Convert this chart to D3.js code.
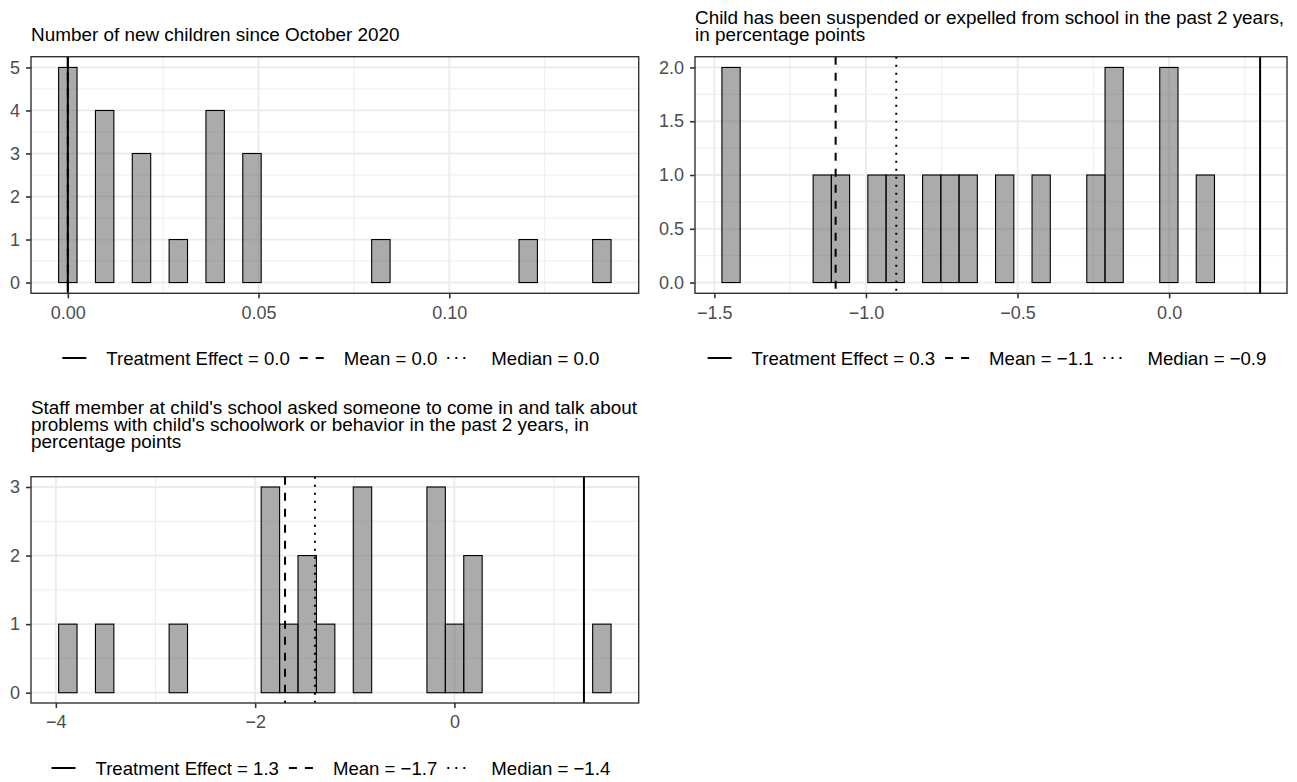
<!DOCTYPE html>
<html><head><meta charset="utf-8">
<script src="https://cdn.jsdelivr.net/npm/d3@7"></script>
<style>html,body{margin:0;padding:0;background:#fff;} svg{display:block;}</style>
</head><body><svg id="chart" width="1297" height="782"></svg>
<script>
// ---------------- DATA ----------------
const titles1 = ["Number of new children since October 2020"];
const titles2 = ["Child has been suspended or expelled from school in the past 2 years,", "in percentage points"];
const titles3 = ["Staff member at child's school asked someone to come in and talk about",
                 "problems with child's schoolwork or behavior in the past 2 years, in",
                 "percentage points"];

const values1 = [0,0,0,0,0, 0.01,0.01,0.01,0.01, 0.02,0.02,0.02, 0.03, 0.04,0.04,0.04,0.04, 0.05,0.05,0.05, 0.08, 0.12, 0.14];
const values2 = [-1.445,-1.445, -1.14, -1.08, -0.96, -0.90, -0.78, -0.72, -0.66, -0.54, -0.42, -0.24, -0.18,-0.18, 0.0,0.0, 0.12];
const values3 = [-3.88, -3.51, -2.77, -1.85,-1.85,-1.85, -1.66, -1.48,-1.48, -1.29, -0.92,-0.92,-0.92, -0.18,-0.18,-0.18, 0.0, 0.18,0.18, 1.48];

// reference lines: [treatment effect, mean, median]
const lines1 = [0.0, 0.0, 0.0];
const lines2 = [0.3, -1.1, -0.9];
const lines3 = [1.3, -1.7, -1.4];

const xTicks1 = [0, 0.05, 0.10];      const xLabels1 = ["0.00", "0.05", "0.10"];
const xTicks2 = [-1.5, -1.0, -0.5, 0]; const xLabels2 = ["\u22121.5", "\u22121.0", "\u22120.5", "0.0"];
const xTicks3 = [-4, -2, 0];           const xLabels3 = ["\u22124", "\u22122", "0"];
const yTicks1 = [0, 1, 2, 3, 4, 5];    const yLabels1 = ["0", "1", "2", "3", "4", "5"];
const yTicks2 = [0, 0.5, 1, 1.5, 2];   const yLabels2 = ["0.0", "0.5", "1.0", "1.5", "2.0"];
const yTicks3 = [0, 1, 2, 3];          const yLabels3 = ["0", "1", "2", "3"];

const legendNames = ["Treatment Effect", "Mean", "Median"];
const nBins = 30;

// ---------------- LAYOUT / STYLE ----------------
const FONT = "'Liberation Sans', Arial, Helvetica, sans-serif";
const layout = [
  {x0: 31,  x1: 638.7, y0: 56.7,  y1: 293.3, titleBase: 40.7, legendY: 358},
  {x0: 695, x1: 1287,  y0: 56.7,  y1: 293.3, titleBase: 40.7, legendY: 358},
  {x0: 31,  x1: 638.7, y0: 476.7, y1: 703,   titleBase: 448,  legendY: 768}
];
const dashes = [null, "8,8", "2,6"];

const panels = [
  {titles: titles1, values: values1, lines: lines1, xT: xTicks1, xL: xLabels1, yT: yTicks1, yL: yLabels1},
  {titles: titles2, values: values2, lines: lines2, xT: xTicks2, xL: xLabels2, yT: yTicks2, yL: yLabels2},
  {titles: titles3, values: values3, lines: lines3, xT: xTicks3, xL: xLabels3, yT: yTicks3, yL: yLabels3}
];

const svg = d3.select("#chart");
svg.append("rect").attr("width", 1297).attr("height", 782).attr("fill", "#fff");

function fmt1(v) {
  const s = Math.abs(v).toFixed(1);
  return (v < -0.0001 ? "\u2212" : "") + s;
}
function minorsOf(ticks, dom) {
  const step = ticks[1] - ticks[0];
  const out = [];
  for (let v = ticks[0] - step / 2; v <= ticks[ticks.length - 1] + step / 2 + 1e-9; v += step) {
    if (v > dom[0] && v < dom[1]) out.push(v);
  }
  return out;
}

panels.forEach((p, i) => {
  const L = layout[i];
  // ggplot-like binning: 30 bins, centres at the min and max of the trained range
  const lo = Math.min(d3.min(p.values), ...p.lines);
  const hi = Math.max(d3.max(p.values), ...p.lines);
  const w = (hi - lo) / (nBins - 1);
  const edges = d3.range(nBins + 1).map(k => lo - w / 2 + k * w);
  const bins = d3.bin().domain([edges[0], edges[nBins]]).thresholds(edges.slice(1, -1))(p.values);
  const filled = bins.filter(b => b.length > 0);

  const dLo = Math.min(filled[0].x0, ...p.lines);
  const dHi = Math.max(filled[filled.length - 1].x1, ...p.lines);
  const pad = 0.05 * (dHi - dLo);
  const xDom = [dLo - pad, dHi + pad];
  const x = d3.scaleLinear().domain(xDom).range([L.x0, L.x1]);

  const maxC = d3.max(filled, b => b.length);
  const yDom = [-0.05 * maxC, maxC * 1.05];
  const y = d3.scaleLinear().domain(yDom).range([L.y1, L.y0]);

  const g = svg.append("g");
  g.append("rect").attr("x", L.x0).attr("y", L.y0).attr("width", L.x1 - L.x0).attr("height", L.y1 - L.y0).attr("fill", "#fff");

  // grid
  const grid = g.append("g");
  grid.selectAll(".gxm").data(minorsOf(p.xT, xDom)).join("line")
    .attr("x1", d => x(d)).attr("x2", d => x(d)).attr("y1", L.y0).attr("y2", L.y1)
    .attr("stroke", "#EBEBEB").attr("stroke-width", 0.9);
  grid.selectAll(".gym").data(minorsOf(p.yT, yDom)).join("line")
    .attr("y1", d => y(d)).attr("y2", d => y(d)).attr("x1", L.x0).attr("x2", L.x1)
    .attr("stroke", "#EBEBEB").attr("stroke-width", 0.9);
  grid.selectAll(".gx").data(p.xT).join("line")
    .attr("x1", d => x(d)).attr("x2", d => x(d)).attr("y1", L.y0).attr("y2", L.y1)
    .attr("stroke", "#EBEBEB").attr("stroke-width", 1.8);
  grid.selectAll(".gy").data(p.yT).join("line")
    .attr("y1", d => y(d)).attr("y2", d => y(d)).attr("x1", L.x0).attr("x2", L.x1)
    .attr("stroke", "#EBEBEB").attr("stroke-width", 1.8);

  // bars
  g.append("g").selectAll("rect").data(filled).join("rect")
    .attr("x", b => x(b.x0)).attr("width", b => x(b.x1) - x(b.x0))
    .attr("y", b => y(b.length)).attr("height", b => y(0) - y(b.length))
    .attr("fill", "#666666").attr("fill-opacity", 0.55)
    .attr("stroke", "#000").attr("stroke-width", 1.1);

  // reference lines
  g.append("g").selectAll("line").data(p.lines).join("line")
    .attr("x1", d => x(d)).attr("x2", d => x(d)).attr("y1", L.y0).attr("y2", L.y1)
    .attr("stroke", "#000").attr("stroke-width", 2)
    .attr("stroke-dasharray", (d, k) => dashes[k]);

  // border
  g.append("rect").attr("x", L.x0).attr("y", L.y0).attr("width", L.x1 - L.x0).attr("height", L.y1 - L.y0)
    .attr("fill", "none").attr("stroke", "#333333").attr("stroke-width", 1.4);

  // axes
  const ax = g.append("g").attr("transform", `translate(0,${L.y1})`)
    .call(d3.axisBottom(x).tickValues(p.xT).tickFormat((d, k) => p.xL[k]).tickSize(5).tickPadding(7.5));
  const ay = g.append("g").attr("transform", `translate(${L.x0},0)`)
    .call(d3.axisLeft(y).tickValues(p.yT).tickFormat((d, k) => p.yL[k]).tickSize(5).tickPadding(6));
  [ax, ay].forEach(a => {
    a.select(".domain").remove();
    a.selectAll(".tick line").attr("stroke", "#333333").attr("stroke-width", 1.6);
    a.selectAll(".tick text").attr("fill", "#4D4D4D").attr("font-family", FONT).attr("font-size", "18px");
  });

  // title
  const nT = p.titles.length;
  g.append("g").selectAll("text").data(p.titles).join("text")
    .attr("x", L.x0).attr("y", (d, k) => L.titleBase - (nT - 1 - k) * 17)
    .attr("font-family", FONT).attr("font-size", "18.9px").attr("fill", "#000")
    .text(d => d);

  // legend
  const lg = g.append("g");
  const items = legendNames.map((n, k) => `${n} = ${fmt1(p.lines[k])}`);
  const keyLen = 24, keyGap = 20, itemGap = 10;
  let cx = 0;
  items.forEach((txt, k) => {
    lg.append("line").attr("x1", cx).attr("x2", cx + keyLen).attr("y1", L.legendY).attr("y2", L.legendY)
      .attr("stroke", "#000").attr("stroke-width", 2).attr("stroke-dasharray", dashes[k]);
    cx += keyLen + keyGap;
    const t = lg.append("text").attr("x", cx).attr("y", L.legendY).attr("dy", "0.35em")
      .attr("font-family", FONT).attr("font-size", "18.6px").attr("fill", "#000").text(txt);
    cx += t.node().getComputedTextLength();
    if (k < items.length - 1) cx += itemGap;
  });
  const centre = (L.x0 + L.x1) / 2 - 4;
  lg.attr("transform", `translate(${centre - cx / 2},0)`);
});
</script>
</body></html>
